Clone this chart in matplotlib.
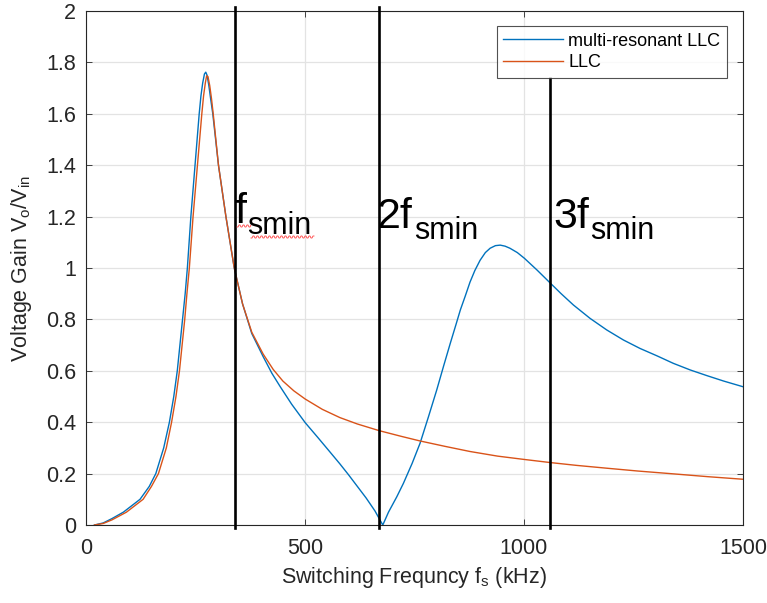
import numpy as np
import matplotlib
matplotlib.use("Agg")
import matplotlib.pyplot as plt
from matplotlib.lines import Line2D
from matplotlib.transforms import IdentityTransform

plt.rcParams['font.family'] = ['Liberation Sans', 'DejaVu Sans']
plt.rcParams['mathtext.fontset'] = 'custom'
plt.rcParams['mathtext.rm'] = 'Liberation Sans'
plt.rcParams['mathtext.it'] = 'Liberation Sans'

# ---- data ----
mr_freq = [20, 40, 60, 86, 105, 124, 145, 160, 178, 191, 201, 209, 215, 221, 227,
           232, 240, 249.5, 259, 263, 267, 271, 274, 277, 281, 285, 290, 303, 320,
           339, 358, 379, 405, 425, 444, 470, 501, 530, 558, 580, 600, 620, 640,
           660, 678, 691, 710, 725, 745, 763, 782, 801, 817, 832, 845, 855, 866,
           877, 888, 900, 912, 923, 935, 946, 957, 968, 985, 1001, 1030, 1061,
           1085, 1113, 1151, 1189, 1227, 1265, 1304, 1341, 1380, 1418, 1456, 1500]
mr_gain = [0.0, 0.008, 0.025, 0.05, 0.075, 0.10, 0.15, 0.20, 0.30, 0.40, 0.50, 0.60,
           0.70, 0.80, 0.90, 1.00, 1.20, 1.40, 1.60, 1.67, 1.72, 1.755, 1.762, 1.75,
           1.71, 1.66, 1.60, 1.40, 1.20, 1.00, 0.86, 0.745, 0.655, 0.59, 0.538,
           0.47, 0.398, 0.34, 0.283, 0.238, 0.195, 0.15, 0.105, 0.055, 0.0, 0.05,
           0.11, 0.162, 0.24, 0.318, 0.42, 0.525, 0.62, 0.707, 0.78, 0.837, 0.89,
           0.945, 0.99, 1.03, 1.06, 1.077, 1.087, 1.089, 1.085, 1.077, 1.06, 1.038,
           0.992, 0.94, 0.9, 0.856, 0.804, 0.759, 0.72, 0.687, 0.658, 0.629, 0.603,
           0.581, 0.56, 0.538]

llc_freq = [20, 40, 60, 93, 112, 131, 150, 166, 184, 196, 206, 214, 220, 226, 231,
            236.5, 245, 255, 265, 269, 273, 276, 279, 283, 287, 291, 303, 320, 339,
            358, 379, 405, 428, 450, 475, 501, 540, 580, 620, 670, 720, 763, 820,
            877, 940, 1001, 1060, 1120, 1189, 1260, 1341, 1420, 1500]
llc_gain = [0.0, 0.006, 0.02, 0.05, 0.075, 0.10, 0.15, 0.20, 0.30, 0.40, 0.50, 0.60,
            0.70, 0.80, 0.90, 1.00, 1.20, 1.40, 1.60, 1.67, 1.72, 1.748, 1.745, 1.71,
            1.66, 1.60, 1.40, 1.20, 1.00, 0.86, 0.75, 0.665, 0.605, 0.56, 0.522,
            0.49, 0.45, 0.418, 0.393, 0.367, 0.345, 0.327, 0.306, 0.286, 0.268,
            0.255, 0.243, 0.232, 0.221, 0.210, 0.199, 0.188, 0.178]

series_labels = ['multi-resonant LLC', 'LLC']
marker_freqs = [340, 670, 1060]
marker_main = ['f', '2f', '3f']
marker_sub = 'smin'
x_ticks = [0, 500, 1000, 1500]
y_ticks = [0, 0.2, 0.4, 0.6, 0.8, 1, 1.2, 1.4, 1.6, 1.8, 2]

W, H = 767, 603
fig = plt.figure(figsize=(W / 100, H / 100), dpi=100)
ax = fig.add_axes([85.7 / W, 1 - 525 / H, (743 - 85.7) / W, (525 - 11) / H])

dark = '#262626'
ax.plot(mr_freq, mr_gain, color='#0072BD', lw=1.0, label=series_labels[0])
ax.plot(llc_freq, llc_gain, color='#D95319', lw=1.0, label=series_labels[1])

ax.set_xlim(0, 1500)
ax.set_ylim(0, 2)
ax.set_xticks(x_ticks)
ax.set_yticks(y_ticks)
ax.set_xticklabels([str(v) for v in x_ticks])
ax.set_yticklabels(['0', '0.2', '0.4', '0.6', '0.8', '1', '1.2', '1.4', '1.6', '1.8', '2'])
ax.grid(True, color='#e3e3e3', lw=0.9)
ax.set_axisbelow(True)
ax.tick_params(direction='in', length=4.5, width=0.6, top=True, right=True,
               labelsize=15.5, colors=dark)
ax.tick_params(axis='x', pad=9)
ax.tick_params(axis='y', pad=7)
for s in ax.spines.values():
    s.set_color(dark)
    s.set_linewidth(0.8)

ax.set_xlabel(r'Switching Frequncy f$_\mathregular{s}$ (kHz)', fontsize=15.5, color=dark)
ax.set_ylabel(r'Voltage Gain V$_\mathregular{o}$/V$_\mathregular{in}$', fontsize=15.5, color=dark)
ax.xaxis.set_label_coords(0.5, -0.103)
ax.xaxis.label.set_va('center')
ax.yaxis.set_label_coords(-0.097, 0.5)
ax.yaxis.label.set_va('center')

leg = ax.legend(loc='upper right', bbox_to_anchor=(0.976, 0.971), borderaxespad=0,
                fontsize=13, frameon=True, fancybox=False, handlelength=3.3,
                handletextpad=0.3, borderpad=0.38, labelspacing=0.25)
leg.get_frame().set_edgecolor(dark)
leg.get_frame().set_linewidth(0.8)
for t in leg.get_texts():
    t.set_color('black')

# vertical marker lines
tops = [2.016, 2.016, 1.739]
for f, top in zip(marker_freqs, tops):
    ax.plot([f, f], [-0.012, top], color='black', lw=1.9, clip_on=False, zorder=5)

# marker labels with subscript
fig.canvas.draw()
renderer = fig.canvas.get_renderer()
label_pos = [(234, 223), (377, 228), (553, 228)]
for (xp, yb), main in zip(label_pos, marker_main):
    t = fig.text(xp, H - yb, main, transform=IdentityTransform(), fontsize=31,
                 va='baseline', ha='left', color='black')
    bb = t.get_window_extent(renderer)
    fig.text(bb.x1 + 1, H - yb - 11, marker_sub, transform=IdentityTransform(),
             fontsize=22, va='baseline', ha='left', color='black')

# red wavy spell-check underline under the first label
def wavy(x0, x1, y):
    xs = np.arange(x0, x1 + 0.5, 1.0)
    ys = y + 1.0 * np.where((np.arange(len(xs)) % 4) < 2, 1, -1)
    fig.add_artist(Line2D(xs, H - ys, transform=IdentityTransform(), color='#ff4040',
                          lw=0.6))
wavy(237, 251, 226)
wavy(251, 314, 237)

fig.savefig('out.png', dpi=100)
